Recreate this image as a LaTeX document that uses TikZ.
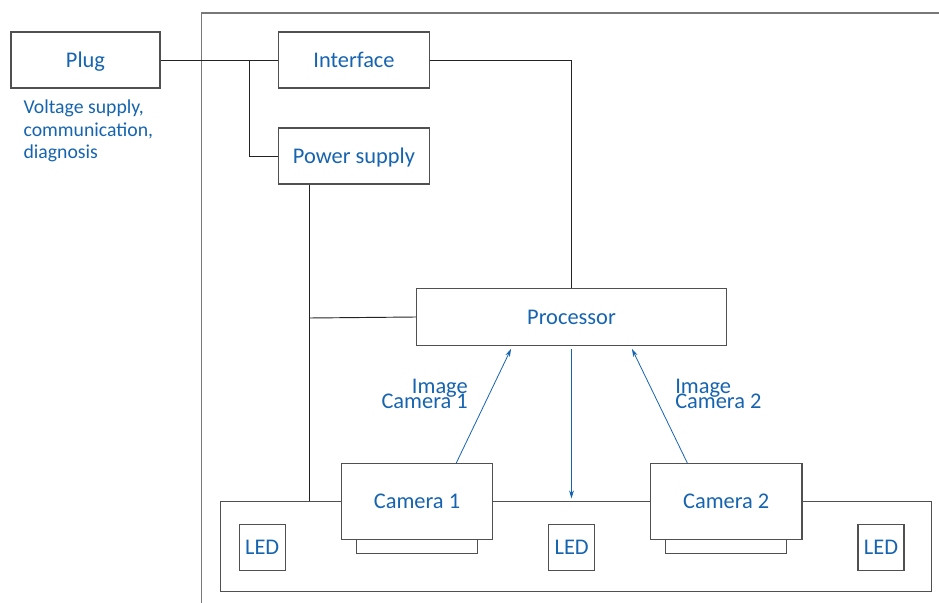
\documentclass[tikz,border=0pt]{standalone}
\usepackage{fontspec}
\setmainfont{Carlito}
\usepackage{xcolor}
\usetikzlibrary{arrows.meta,positioning,calc}

\definecolor{txtblue}{RGB}{22,100,176}
\definecolor{boxgray}{RGB}{80,80,80}
\definecolor{wiregray}{RGB}{35,35,35}
\definecolor{framegray}{RGB}{120,120,120}

\newcommand{\tightlines}{\fontsize{16.8}{11.3}\selectfont\lineskiplimit -30pt\relax}

\begin{document}
\begin{tikzpicture}[
    x=0.75pt, y=-0.75pt,
    box/.style={rectangle, draw=boxgray, line width=0.9pt, fill=white, text=txtblue, font=\fontsize{16.8}{20}\selectfont, inner sep=0pt, text height=11pt, text depth=0pt},
    wire/.style={draw=wiregray, line width=0.7pt},
    frame/.style={draw=framegray, line width=0.9pt},
    arrow/.style={-{Stealth[length=6pt,width=3.6pt]}, draw=txtblue, line width=0.6pt},
    note/.style={text=txtblue, inner sep=0pt},
    tight/.style={font=\tightlines}
]
\useasboundingbox (0,0) rectangle (939,603);

% Housing
\draw[frame] (939,13) -- (201.7,13) -- (201.7,603);

% Boxes
\node[box, minimum width=111.75pt, minimum height=42pt] (plug) at (85.5,60) {Plug};
\node[box, minimum width=113.25pt, minimum height=42pt] (iface) at (354,60) {Interface};
\node[box, minimum width=113.25pt, minimum height=42pt] (psu) at (354,156) {Power supply};
\node[box, minimum width=232.5pt, minimum height=42.75pt] (proc) at (571.5,317) {Processor};

% Camera board
\node[box, minimum width=533.5pt, minimum height=67.5pt] (board) at (576,546.7) {};
\node[box, minimum width=90.75pt, minimum height=10.9pt, text height=0pt] (lens1) at (417,546.5) {};
\node[box, minimum width=90.75pt, minimum height=10.9pt, text height=0pt] (lens2) at (726.2,546.5) {};
\node[box, minimum width=113.6pt, minimum height=57pt] (cam1) at (417,501.5) {Camera 1};
\node[box, minimum width=113.6pt, minimum height=57pt] (cam2) at (726.2,501.5) {Camera 2};
\node[box, minimum width=34.5pt, minimum height=34.5pt] (led1) at (262.2,547.2) {LED};
\node[box, minimum width=34.5pt, minimum height=34.5pt] (led2) at (571.7,547.2) {LED};
\node[box, minimum width=34.5pt, minimum height=34.5pt] (led3) at (881,547.2) {LED};

% Labels
\node[note, anchor=base west, align=left, font=\fontsize{14.8}{16.9}\selectfont] (plugnote) at (23.3,158.7) {Voltage supply,\\communication,\\diagnosis};
\node[note, tight, anchor=south east, align=right] (imgA) at (468,409) {Image\\Camera 1};
\node[note, tight, anchor=south west, align=left] (imgB) at (675,409) {Image\\Camera 2};

% Junctions
\coordinate (tapA) at (249.3,60);
\coordinate (tapB) at (309,318);

% Connections
\draw[wire] (plug.east) -- (iface.west);
\draw[wire] (tapA) |- (psu.west);
\draw[wire] (iface.east) -| (proc.north);
\draw[wire] (tapB |- psu.south) -- (tapB |- board.north);
\draw[wire] (tapB) -- (proc.west);

\draw[arrow, shorten <=2.2pt, shorten >=2pt] (proc.south) -- (proc.south |- board.north);
\draw[arrow, shorten >=2.3pt] ($(cam1.north)!0.515!(cam1.north east)$) -- ($(proc.south)!0.38!(proc.south west)$);
\draw[arrow, shorten >=2.3pt] ($(cam2.north)!0.51!(cam2.north west)$) -- ($(proc.south)!0.38!(proc.south east)$);

\end{tikzpicture}
\end{document}
